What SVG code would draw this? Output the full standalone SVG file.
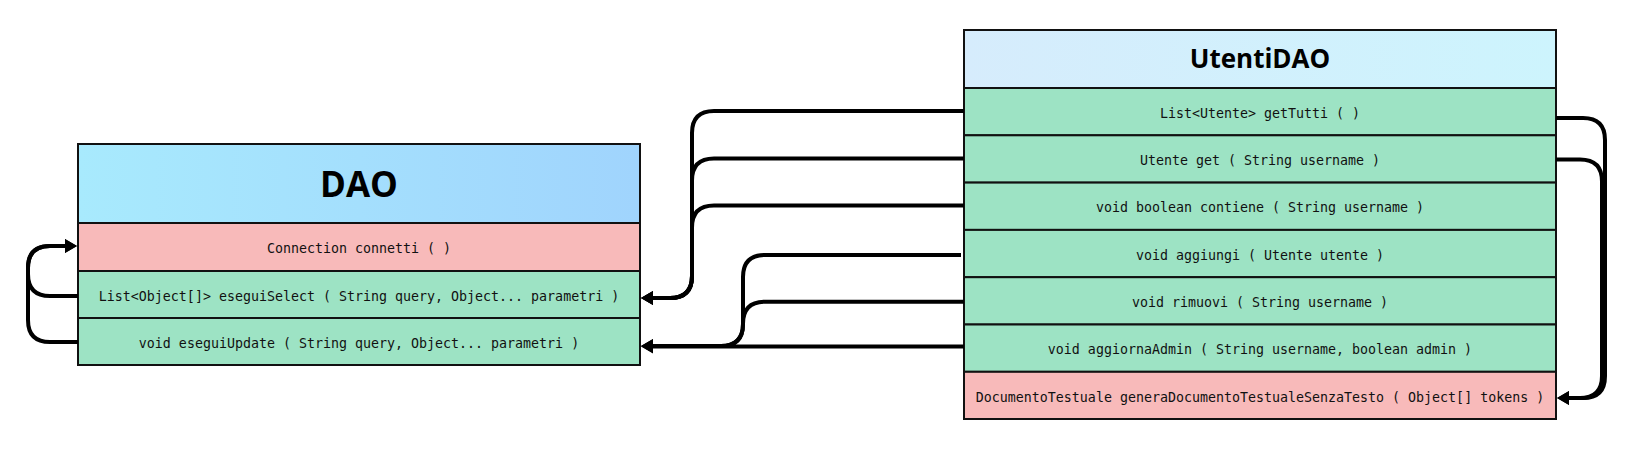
<svg xmlns="http://www.w3.org/2000/svg" width="1644" height="450" viewBox="0 0 1644 450">
  <style>
    .title { font-family: "Open Sans", "Noto Sans", sans-serif; font-weight: bold; fill: #000; text-anchor: middle; }
    .m { font-family: "DejaVu Sans Mono", "Liberation Mono", monospace; font-size: 13.3px; fill: #111; text-anchor: middle; }
    .green { fill: #9de3c4; stroke: #111; stroke-width: 2; }
    .pink { fill: #f8baba; stroke: #111; stroke-width: 2; }
    .frame { fill: none; stroke: #111; stroke-width: 2; }
    .conn { fill: none; stroke: #000; stroke-width: 4; }
  </style>
  <defs>
    <linearGradient id="gDao" x1="0" y1="0" x2="1" y2="0">
      <stop offset="0" stop-color="#a8eafd"/>
      <stop offset="1" stop-color="#a0d4fd"/>
    </linearGradient>
    <linearGradient id="gUt" x1="0" y1="0" x2="1" y2="0">
      <stop offset="0" stop-color="#d6ecfc"/>
      <stop offset="1" stop-color="#cdf4fd"/>
    </linearGradient>
    <marker id="arr" markerUnits="userSpaceOnUse" markerWidth="14" markerHeight="14" refX="1" refY="7" orient="auto">
      <path d="M0,0 L12,7 L0,14 Z" fill="#000"/>
    </marker>
  </defs>

  <g id="DAO">
    <rect x="78" y="144" width="562" height="79" fill="url(#gDao)" stroke="#111" stroke-width="2"/>
    <text class="title" x="359" y="197" font-size="35">DAO</text>
    <rect class="pink" x="78" y="223" width="562" height="48"/>
    <text class="m" x="359" y="253">Connection connetti ( )</text>
    <rect class="green" x="78" y="271" width="562" height="47"/>
    <text class="m" x="359" y="301">List&lt;Object[]&gt; eseguiSelect ( String query, Object... parametri )</text>
    <rect class="green" x="78" y="318" width="562" height="47"/>
    <text class="m" x="359" y="348">void eseguiUpdate ( String query, Object... parametri )</text>
    <rect class="frame" x="78" y="144" width="562" height="221"/>
  </g>

  <g id="UtentiDAO">
    <rect x="964" y="30" width="592" height="58" fill="url(#gUt)" stroke="#111" stroke-width="2"/>
    <text class="title" x="1260" y="68" font-size="26">UtentiDAO</text>
    <rect class="green" x="964" y="88" width="592" height="47.3"/>
    <text class="m" x="1260" y="117.5">List&lt;Utente&gt; getTutti ( )</text>
    <rect class="green" x="964" y="135.3" width="592" height="47.3"/>
    <text class="m" x="1260" y="165">Utente get ( String username )</text>
    <rect class="green" x="964" y="182.6" width="592" height="47.3"/>
    <text class="m" x="1260" y="212.3">void boolean contiene ( String username )</text>
    <rect class="green" x="964" y="229.9" width="592" height="47.3"/>
    <text class="m" x="1260" y="259.6">void aggiungi ( Utente utente )</text>
    <rect class="green" x="964" y="277.2" width="592" height="47.3"/>
    <text class="m" x="1260" y="306.9">void rimuovi ( String username )</text>
    <rect class="green" x="964" y="324.5" width="592" height="47.3"/>
    <text class="m" x="1260" y="354.2">void aggiornaAdmin ( String username, boolean admin )</text>
    <rect class="pink" x="964" y="371.8" width="592" height="47.2"/>
    <text class="m" x="1260" y="401.6">DocumentoTestuale generaDocumentoTestualeSenzaTesto ( Object[] tokens )</text>
    <rect class="frame" x="964" y="30" width="592" height="389"/>
  </g>

  <g id="connectors">
    <!-- UtentiDAO -> DAO.eseguiSelect -->
    <path class="conn" d="M964 111 H714 Q692 111 692 133 V276 Q692 298 670 298 H652" marker-end="url(#arr)"/>
    <path class="conn" d="M964 158.5 H714 Q692 158.5 692 180.5 V276 Q692 298 670 298 H652" marker-end="url(#arr)"/>
    <path class="conn" d="M964 205.5 H714 Q692 205.5 692 227.5 V276 Q692 298 670 298 H652" marker-end="url(#arr)"/>
    <!-- UtentiDAO -> DAO.eseguiUpdate -->
    <path class="conn" d="M961 255 H765 Q743 255 743 277 V324 Q743 346 721 346 H652" marker-end="url(#arr)"/>
    <path class="conn" d="M964 301.7 H765 Q743 301.7 743 323.7 V324 Q743 346 721 346 H652" marker-end="url(#arr)"/>
    <path class="conn" d="M964 346.5 H652" marker-end="url(#arr)"/>
    <!-- UtentiDAO self -->
    <path class="conn" d="M1556 118 H1583 Q1605 118 1605 140 V376 Q1605 398 1583 398 H1568" marker-end="url(#arr)"/>
    <path class="conn" d="M1556 159.5 H1580 Q1602 159.5 1602 181.5 V376 Q1602 398 1580 398 H1568" marker-end="url(#arr)"/>
    <!-- DAO self -->
    <path class="conn" d="M78 296 H50 Q28 296 28 274 V268 Q28 246 50 246 H66" marker-end="url(#arr)"/>
    <path class="conn" d="M78 342 H50 Q28 342 28 320 V268 Q28 246 50 246 H66" marker-end="url(#arr)"/>
  </g>
</svg>
